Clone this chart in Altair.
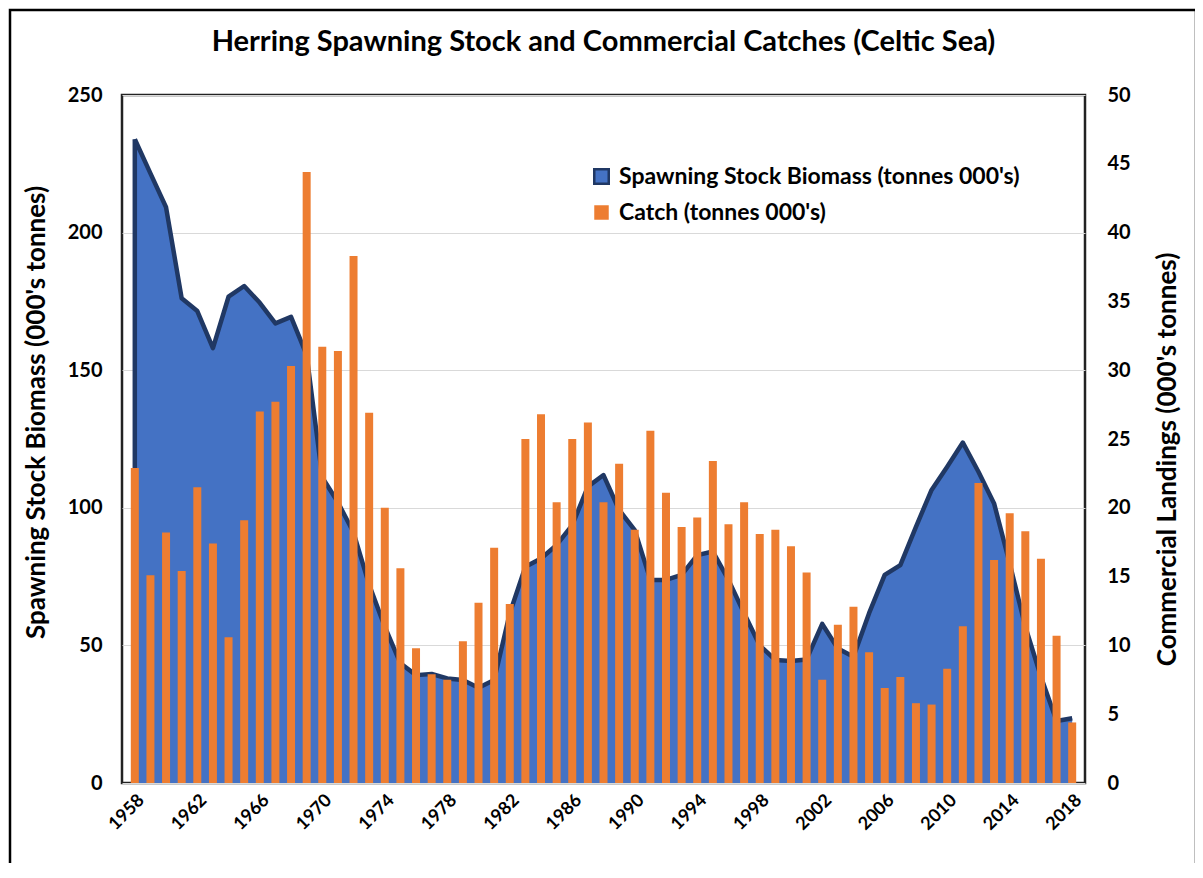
import altair as alt
import pandas as pd

years = list(range(1958, 2019))
ssb = [233.9, 221.5, 209.2, 176.1, 171.5, 158.0, 176.7, 180.6, 174.5, 167.0,
       169.4, 155.5, 111.0, 102.0, 91.0, 72.0, 56.8, 43.5, 39.2, 39.6,
       38.0, 37.4, 34.6, 37.4, 61.7, 78.6, 81.6, 86.5, 93.7, 107.7,
       111.9, 99.2, 91.9, 73.8, 73.8, 75.6, 82.8, 84.1, 73.8, 61.7,
       50.0, 44.7, 44.3, 44.9, 57.8, 48.9, 45.9, 61.7, 75.6, 79.2,
       93.1, 106.5, 114.9, 123.7, 113.1, 101.6, 79.8, 56.8, 38.6, 22.5, 23.5]
catch = [22.9, 15.1, 18.2, 15.4, 21.5, 17.4, 10.6, 19.1, 27.0, 27.7,
         30.3, 44.4, 31.7, 31.4, 38.3, 26.9, 20.0, 15.6, 9.8, 7.9,
         7.5, 10.3, 13.1, 17.1, 13.0, 25.0, 26.8, 20.4, 25.0, 26.2,
         20.4, 23.2, 18.4, 25.6, 21.1, 18.6, 19.3, 23.4, 18.8, 20.4,
         18.1, 18.4, 17.2, 15.3, 7.5, 11.5, 12.8, 9.5, 6.9, 7.7,
         5.8, 5.7, 8.3, 11.4, 21.8, 16.2, 19.6, 18.3, 16.3, 10.7, 4.4]
tick_years = list(range(1958, 2019, 4))

SSB_LABEL = "Spawning Stock Biomass (tonnes 000's)"
CATCH_LABEL = "Catch (tonnes 000's)"

df = pd.DataFrame({"year": years, "ssb": ssb, "catch": catch,
                   "ssb_series": SSB_LABEL, "catch_series": CATCH_LABEL})
FONT = "Lato"

legend_common = dict(title=None, orient="none", symbolType="square", symbolSize=210,
                     labelFontSize=23, labelFont=FONT, labelFontWeight="bold",
                     labelColor="#000", labelOffset=6, symbolOpacity=1, labelLimit=600)

x_enc = alt.X("year:Q",
              scale=alt.Scale(domain=[1957.5, 2018.5], nice=False, zero=False),
              axis=alt.Axis(values=tick_years, format="d", labelAngle=-45, title=None,
                            grid=False, ticks=False, domain=False, labelPadding=8,
                            labelFontSize=18, labelFont=FONT, labelFontWeight="bold",
                            labelColor="#000"))

left_scale = alt.Scale(domain=[0, 250], nice=False)
right_scale = alt.Scale(domain=[0, 50], nice=False)

left_axis = alt.Axis(values=[0, 50, 100, 150, 200, 250], title="Spawning Stock Biomass (000's tonnes)",
                     grid=True, gridColor="#D9D9D9", gridWidth=1, ticks=False, domain=False,
                     labelPadding=20, labelFontSize=20, labelFont=FONT, labelFontWeight="bold",
                     labelColor="#000", titleFontSize=26, titleFont=FONT, titleFontWeight="bold",
                     titleColor="#000", titlePadding=18, titleY=317)

base = alt.Chart(df)

area = base.mark_area(opacity=1).encode(
    x=x_enc,
    y=alt.Y("ssb:Q", scale=left_scale, axis=left_axis),
    fill=alt.Fill("ssb_series:N", scale=alt.Scale(domain=[SSB_LABEL], range=["#4472C4"]),
                  legend=alt.Legend(legendX=468, legendY=70, symbolStrokeColor="#203864",
                                    symbolStrokeWidth=2.5, **legend_common)),
)

line = base.mark_line(color="#203864", strokeWidth=4.5, strokeJoin="round").encode(
    x=alt.X("year:Q"),
    y=alt.Y("ssb:Q", scale=left_scale, axis=left_axis),
)

left_edge = base.transform_filter(alt.datum.year == years[0]).mark_rule(
    color="#203864", strokeWidth=4.5).encode(
    x=alt.X("year:Q"),
    y=alt.Y("ssb:Q", scale=left_scale, axis=left_axis),
    y2=alt.datum(0),
)

bars = base.mark_bar(size=8).encode(
    x=alt.X("year:Q"),
    y=alt.Y("catch:Q", scale=right_scale,
            axis=alt.Axis(orient="right", values=list(range(0, 55, 5)),
                          title="Commercial Landings (000's tonnes)", grid=False, ticks=False,
                          domain=False, labelPadding=22, labelFontSize=20, labelFont=FONT,
                          labelFontWeight="bold", labelColor="#000", titleFontSize=26,
                          titleFont=FONT, titleFontWeight="bold", titleColor="#000",
                          titlePadding=50, titleAngle=270, titleY=364)),
    color=alt.Color("catch_series:N", scale=alt.Scale(domain=[CATCH_LABEL], range=["#ED7D31"]),
                    legend=alt.Legend(legendX=468, legendY=106, symbolStrokeWidth=0,
                                      **legend_common)),
)

frame = alt.Chart(alt.Data(values=[{"k": 1}])).mark_rect(
    fill=None, stroke="#000", strokeWidth=2.5).encode(
    x=alt.value(-112), x2=alt.value(1074), y=alt.value(-85), y2=alt.value(820))

left = alt.layer(area, line, left_edge)
chart = alt.layer(left, bars, frame).resolve_scale(y="independent").properties(
    width=963, height=688,
    title=alt.TitleParams("Herring Spawning Stock and Commercial Catches (Celtic Sea)",
                          fontSize=29, font=FONT, fontWeight="bold", color="#000",
                          anchor="middle", offset=-48),
    autosize=alt.AutoSizeParams(type="none"),
    padding={"left": 114, "top": 87, "right": 110, "bottom": 80},
).configure_view(stroke="#222", strokeWidth=2.5)

chart.save("out.html", embed_options={"renderer": "svg", "actions": False})
